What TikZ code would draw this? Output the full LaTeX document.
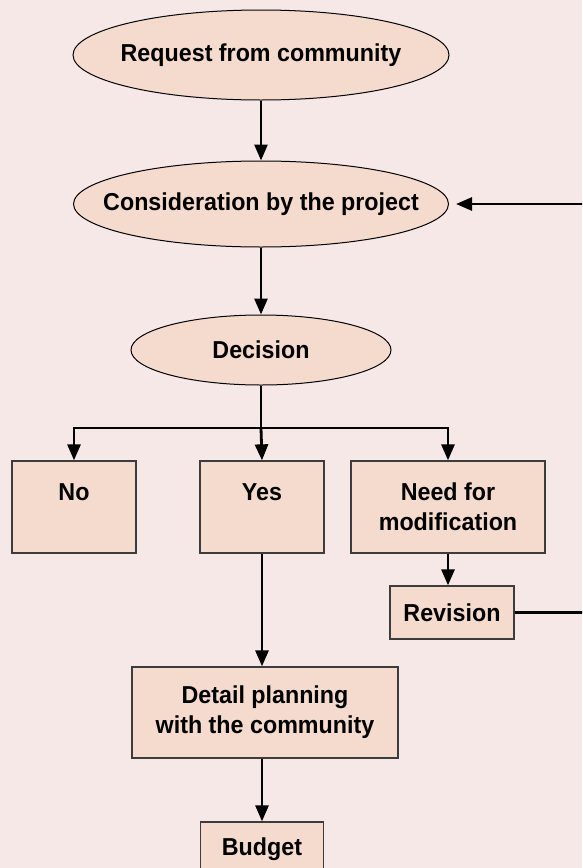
\documentclass[tikz,border=0pt]{standalone}
\usepackage{fontspec}
\setmainfont{Liberation Sans}[FakeStretch=0.95]
\usetikzlibrary{arrows.meta,shapes.geometric}
\definecolor{bgpink}{RGB}{246,232,231}
\definecolor{peach}{RGB}{245,219,206}
\definecolor{edgegray}{RGB}{60,60,60}
\tikzset{
  every node/.style={font=\fontsize{24.5}{30}\selectfont\bfseries, text=black},
  oval/.style={ellipse, draw=black, line width=1pt, fill=peach, inner sep=0pt},
  boxnode/.style={rectangle, draw=edgegray, line width=1.3pt, fill=peach, inner sep=0pt, align=center},
  conn/.style={draw=black, line width=2.8pt},
  arr/.style={conn, -{Triangle[length=16pt,width=13pt]}},
}
\begin{document}
\begin{tikzpicture}[x=1pt,y=-1pt]
\fill[bgpink] (0,0) rectangle (582,868);
\useasboundingbox (0,0) rectangle (582,868);
\clip (0,0) rectangle (582,868);
\node[oval, minimum width=376pt, minimum height=90pt] (req) at (261,55) {\makebox[0pt]{Request from community}};
\node[oval, minimum width=375pt, minimum height=86pt] (cons) at (261,204) {\makebox[0pt]{Consideration by the project}};
\node[oval, minimum width=260pt, minimum height=70pt] (dec) at (261,350) {\makebox[0pt]{Decision}};
\node[boxnode, minimum width=124pt, minimum height=92pt] (no) at (74,507) {No\\\phantom{X}};
\node[boxnode, minimum width=124pt, minimum height=92pt] (yes) at (262,507) {Yes\\\phantom{X}};
\node[boxnode, minimum width=194pt, minimum height=92pt] (need) at (448,507) {Need for\\modification};
\node[boxnode, minimum width=124pt, minimum height=53pt] (rev) at (452,612.5) {Revision};
\node[boxnode, minimum width=266pt, minimum height=91pt] (detail) at (265,712.5) {Detail planning\\with the community};
\node[boxnode, minimum width=123pt, minimum height=80pt] (budget) at (262,862) {Budget\\\phantom{X}};
\coordinate (fork) at (261,428);
\draw[arr] (req.south) -- (cons.north);
\draw[arr] (cons.south) -- (dec.north);
\draw[conn] (dec.south) -- (fork);
\draw[arr] (fork) -| (no.north);
\draw[arr] (fork) -- (yes.north);
\draw[arr] (fork) -| (need.north);
\draw[arr] (need.south) -- (need.south |- rev.north);
\draw[arr] (yes.south) -- (yes.south |- detail.north);
\draw[arr] (budget.north |- detail.south) -- (budget.north);
\draw[arr, shorten >=7pt] (rev.east) -- ++(100,0) |- (cons.east);
\end{tikzpicture}
\end{document}
